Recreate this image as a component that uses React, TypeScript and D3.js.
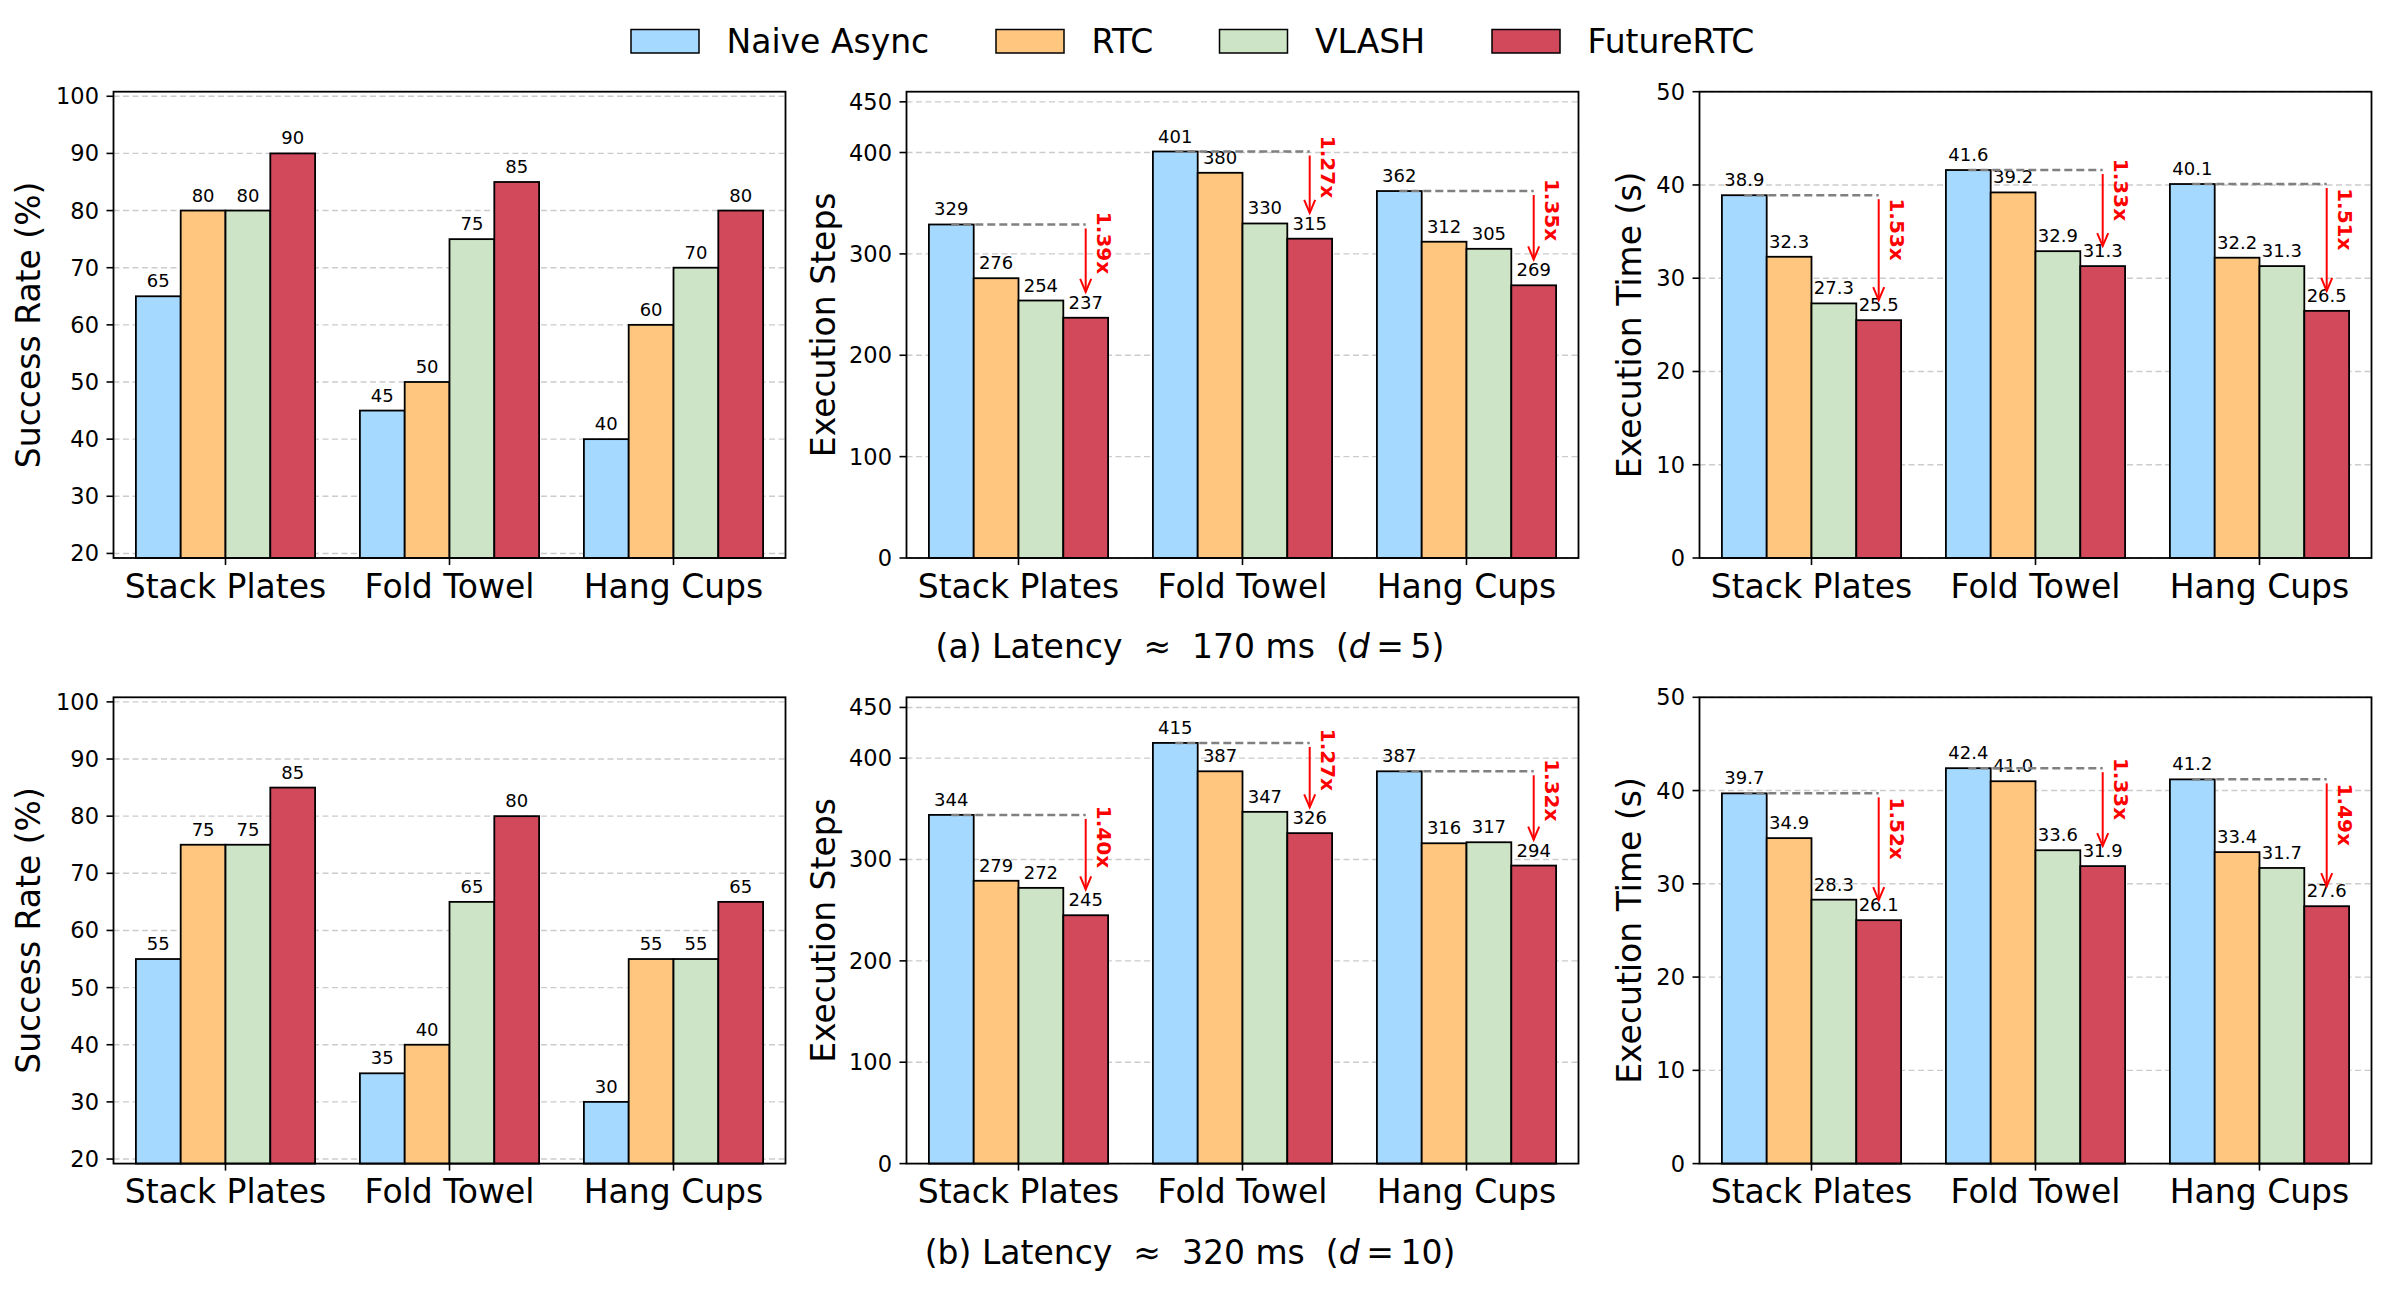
import * as d3 from 'd3';

const categories = ['Stack Plates', 'Fold Towel', 'Hang Cups'];
const methods = ['Naive Async', 'RTC', 'VLASH', 'FutureRTC'];
const colors = ['#a6d9ff', '#ffc680', '#cde4c6', '#d1495b'];

// values are [category][method]
const successA = [[65, 80, 80, 90], [45, 50, 75, 85], [40, 60, 70, 80]];
const stepsA = [[329, 276, 254, 237], [401, 380, 330, 315], [362, 312, 305, 269]];
const timeA = [[38.9, 32.3, 27.3, 25.5], [41.6, 39.2, 32.9, 31.3], [40.1, 32.2, 31.3, 26.5]];
const speedStepsA = ['1.39x', '1.27x', '1.35x'];
const speedTimeA = ['1.53x', '1.33x', '1.51x'];

const successB = [[55, 75, 75, 85], [35, 40, 65, 80], [30, 55, 55, 65]];
const stepsB = [[344, 279, 272, 245], [415, 387, 347, 326], [387, 316, 317, 294]];
const timeB = [[39.7, 34.9, 28.3, 26.1], [42.4, 41.0, 33.6, 31.9], [41.2, 33.4, 31.7, 27.6]];
const speedStepsB = ['1.40x', '1.27x', '1.32x'];
const speedTimeB = ['1.52x', '1.33x', '1.49x'];

const successTicks = [20, 30, 40, 50, 60, 70, 80, 90, 100];
const stepsTicks = [0, 100, 200, 300, 400, 450];
const timeTicks = [0, 10, 20, 30, 40, 50];

const W = 2385;
const H = 1290;
const FONT = 'DejaVu Sans';
const panelLefts = [113.5, 906.5, 1699.5];
const panelW = 672;
const rowTops = [91.7, 697.3];
const panelH = 466.3;
const legendX = [631, 996, 1219.5, 1492];

const metrics = {
  success: { domain: [19.2, 100.8], ticks: successTicks, label: 'Success Rate (%)', labelOff: 85.5, fmt: (v: number) => String(v), pad: 0 },
  steps: { domain: [0, 460], ticks: stepsTicks, label: 'Execution Steps', labelOff: 83, fmt: (v: number) => String(v), pad: 25.5 },
  time: { domain: [0, 50], ticks: timeTicks, label: 'Execution Time (s)', labelOff: 70, fmt: (v: number) => v.toFixed(1), pad: 2.15 },
};

function Panel({ left, top, data, metric, speedups }: any) {
  const bottom = top + panelH;
  const x = d3.scaleLinear().domain([-0.5, 2.5]).range([left, left + panelW]);
  const y = d3.scaleLinear().domain(metric.domain).range([bottom, top]);
  const bw = x(0.2) - x(0);
  const cx = (c: number, m: number) => x(c + (m - 1.5) * 0.2);

  return (
    <g>
      {metric.ticks.map((t: number) => (
        <line key={'g' + t} x1={left} x2={left + panelW} y1={y(t)} y2={y(t)}
          stroke="#cccccc" strokeWidth={1.4} strokeDasharray="6 3.5" />
      ))}
      {data.map((row: number[], c: number) =>
        row.map((v: number, m: number) => (
          <rect key={`b${c}-${m}`} x={cx(c, m) - bw / 2} y={y(v)} width={bw} height={bottom - y(v)}
            fill={colors[m]} stroke="#000" strokeWidth={1.8} />
        ))
      )}
      {data.map((row: number[], c: number) =>
        row.map((v: number, m: number) => (
          <text key={`l${c}-${m}`} x={cx(c, m)} y={y(v) - 9} textAnchor="middle"
            fontSize={18} fontFamily={FONT} fill="#000">{metric.fmt(v)}</text>
        ))
      )}
      {speedups && data.map((row: number[], c: number) => {
        const naive = row[0];
        const fut = row[3];
        const ax = cx(c, 3);
        const y0 = y(naive);
        const tip = y(fut + metric.pad);
        return (
          <g key={'a' + c}>
            <line x1={cx(c, 0)} x2={ax} y1={y0} y2={y0} stroke="#808080" strokeWidth={2.5} strokeDasharray="8 4" />
            <line x1={ax} x2={ax} y1={y0 + 4} y2={tip} stroke="#ff0000" strokeWidth={2} />
            <path d={`M${ax - 5.5},${tip - 13} L${ax},${tip} L${ax + 5.5},${tip - 13}`} fill="none" stroke="#ff0000" strokeWidth={2} />
            <text transform={`translate(${ax + 18},${y((naive + fut) / 2) + 3}) rotate(90)`} textAnchor="end"
              dominantBaseline="central" fontSize={20} fontWeight="bold" fontFamily={FONT} fill="#ff0000">{speedups[c]}</text>
          </g>
        );
      })}
      <rect x={left} y={top} width={panelW} height={panelH} fill="none" stroke="#000" strokeWidth={1.8} />
      {metric.ticks.map((t: number) => (
        <g key={'t' + t}>
          <line x1={left - 7} x2={left} y1={y(t)} y2={y(t)} stroke="#000" strokeWidth={1.6} />
          <text x={left - 14.5} y={y(t)} textAnchor="end" dominantBaseline="central"
            fontSize={22.5} fontFamily={FONT} fill="#000">{t}</text>
        </g>
      ))}
      {categories.map((cat, c) => (
        <g key={'x' + c}>
          <line x1={x(c)} x2={x(c)} y1={bottom} y2={bottom + 7} stroke="#000" strokeWidth={1.6} />
          <text x={x(c)} y={bottom + 39.5} textAnchor="middle" fontSize={33} fontFamily={FONT} fill="#000">{cat}</text>
        </g>
      ))}
      <text transform={`translate(${left - metric.labelOff},${top + panelH / 2}) rotate(-90)`} textAnchor="middle"
        dominantBaseline="central" fontSize={33} fontFamily={FONT} fill="#000">{metric.label}</text>
    </g>
  );
}

function Caption({ y, tag, ms, d }: any) {
  return (
    <text x={1190} y={y} textAnchor="middle" fontSize={33} fontFamily={FONT} fill="#000" style={{ whiteSpace: 'pre' }}>
      {`(${tag}) Latency  \u2248  ${ms} ms  (`}
      <tspan fontStyle="italic">d</tspan>
      {`\u2009=\u2009${d})`}
    </text>
  );
}

export default function App() {
  const rows = [
    { data: [successA, stepsA, timeA], speed: [null, speedStepsA, speedTimeA] },
    { data: [successB, stepsB, timeB], speed: [null, speedStepsB, speedTimeB] },
  ];
  const ms = [metrics.success, metrics.steps, metrics.time];
  return (
    <div style={{ position: 'absolute', left: 0, top: 0 }}>
      <svg width={W} height={H} style={{ display: 'block', background: '#fff' }}>
        {methods.map((name, i) => (
          <g key={name}>
            <rect x={legendX[i]} y={29.5} width={68} height={23.5} fill={colors[i]} stroke="#000" strokeWidth={1.5} />
            <text x={legendX[i] + 95.5} y={53.3} fontSize={33} fontFamily={FONT} fill="#000">{name}</text>
          </g>
        ))}
        {rows.map((r, ri) =>
          ms.map((m, pi) => (
            <Panel key={`${ri}-${pi}`} left={panelLefts[pi]} top={rowTops[ri]} data={r.data[pi]}
              metric={m} speedups={r.speed[pi]} />
          ))
        )}
        <Caption y={rowTops[0] + panelH + 100} tag="a" ms={170} d={5} />
        <Caption y={rowTops[1] + panelH + 100} tag="b" ms={320} d={10} />
      </svg>
    </div>
  );
}
